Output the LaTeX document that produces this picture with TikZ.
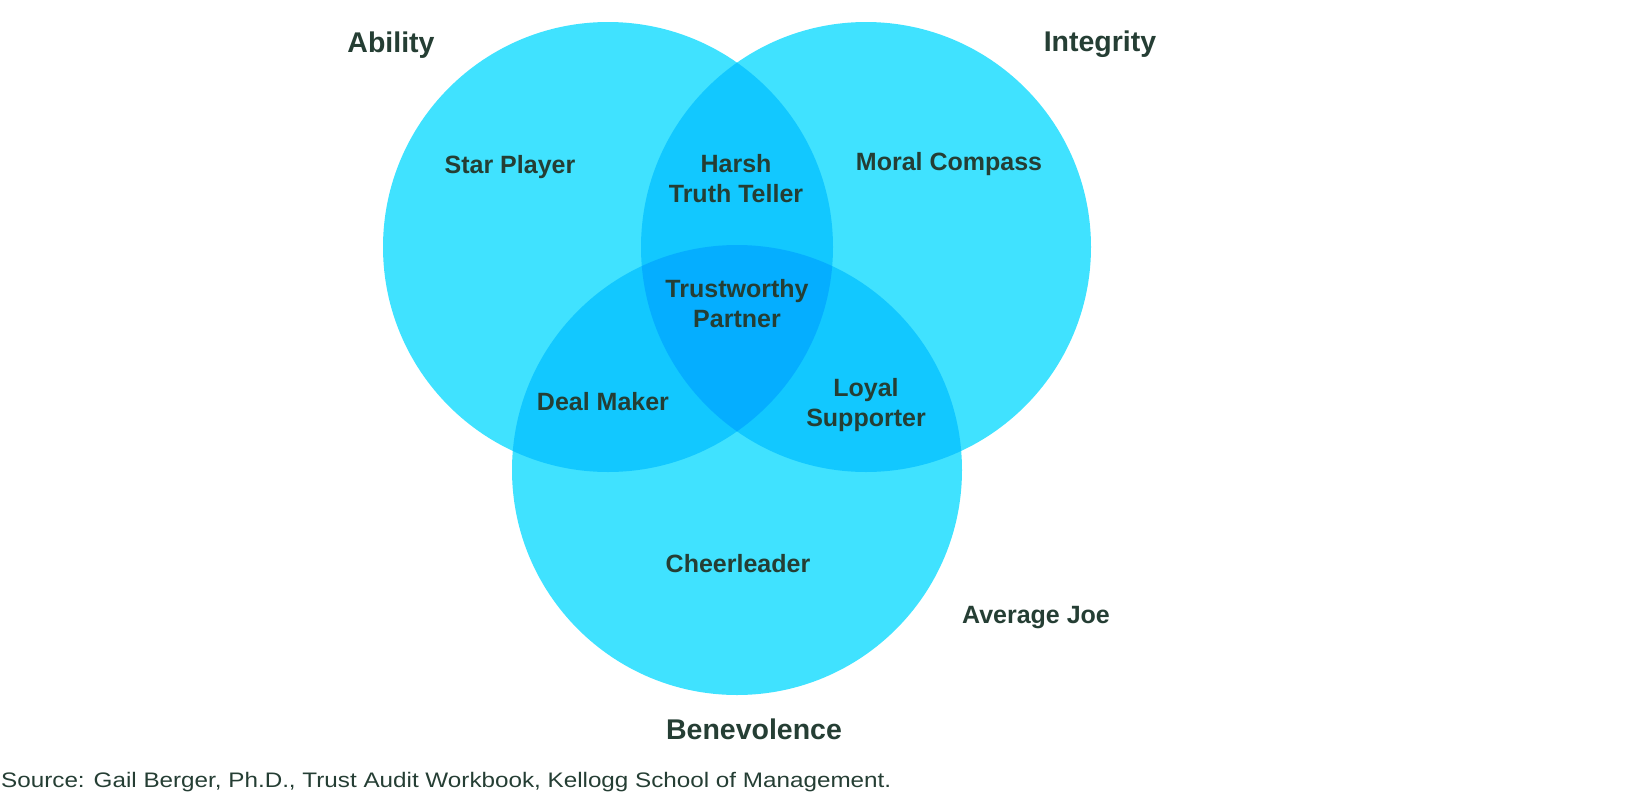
\documentclass[tikz,border=0pt]{standalone}
\usepackage{fontspec}
\setmainfont{Liberation Sans}
\usepackage{graphicx}
\definecolor{c1}{HTML}{40E2FF}
\definecolor{c2}{HTML}{12C8FF}
\definecolor{c3}{HTML}{05AEFF}
\definecolor{ink}{HTML}{253E34}
\tikzset{
  lab/.style={font=\bfseries\fontsize{25}{30}\selectfont, text=ink, anchor=base, inner sep=0pt},
  ttl/.style={font=\bfseries\fontsize{28.5}{34}\selectfont, text=ink, anchor=base, inner sep=0pt},
  src/.style={font=\fontsize{21}{25}\selectfont, text=ink, anchor=base west, inner sep=0pt},
}
\begin{document}
\begin{tikzpicture}[x=1pt,y=-1pt]
\useasboundingbox (0,0) rectangle (1626,804);
\coordinate (L) at (608,247);
\coordinate (R) at (866,247);
\coordinate (B) at (737,470);
\fill[c1] (L) circle[radius=225pt];
\fill[c1] (R) circle[radius=225pt];
\fill[c1] (B) circle[radius=225pt];
\begin{scope}
  \clip (L) circle[radius=225pt];
  \fill[c2] (R) circle[radius=225pt];
  \fill[c2] (B) circle[radius=225pt];
\end{scope}
\begin{scope}
  \clip (R) circle[radius=225pt];
  \fill[c2] (B) circle[radius=225pt];
\end{scope}
\begin{scope}
  \clip (L) circle[radius=225pt];
  \clip (R) circle[radius=225pt];
  \fill[c3] (B) circle[radius=225pt];
\end{scope}
\node[ttl] (ability) at (391,52) {Ability};
\node[ttl] (integrity) at (1100,51) {Integrity};
\node[ttl] (benevolence) at (754,739) {Benevolence};
\node[lab] (star) at (510,173) {Star Player};
\node[lab] (harsh) at (736,172) {Harsh};
\node[lab] (truth) at (736,202) {Truth Teller};
\node[lab] (moral) at (949,170) {Moral Compass};
\node[lab] (trust) at (737,297) {Trustworthy};
\node[lab] (partner) at (737,327) {Partner};
\node[lab] (deal) at (603,410) {Deal Maker};
\node[lab] (loyal) at (866,396) {Loyal};
\node[lab] (supporter) at (866,426) {Supporter};
\node[lab] (cheer) at (738,572) {Cheerleader};
\node[lab] (joe) at (1036,623) {Average Joe};
\node[src] (source) at (1,787) {\resizebox{890pt}{\height}{Source: Gail Berger, Ph.D., Trust Audit Workbook, Kellogg School of Management.}};
\end{tikzpicture}
\end{document}
